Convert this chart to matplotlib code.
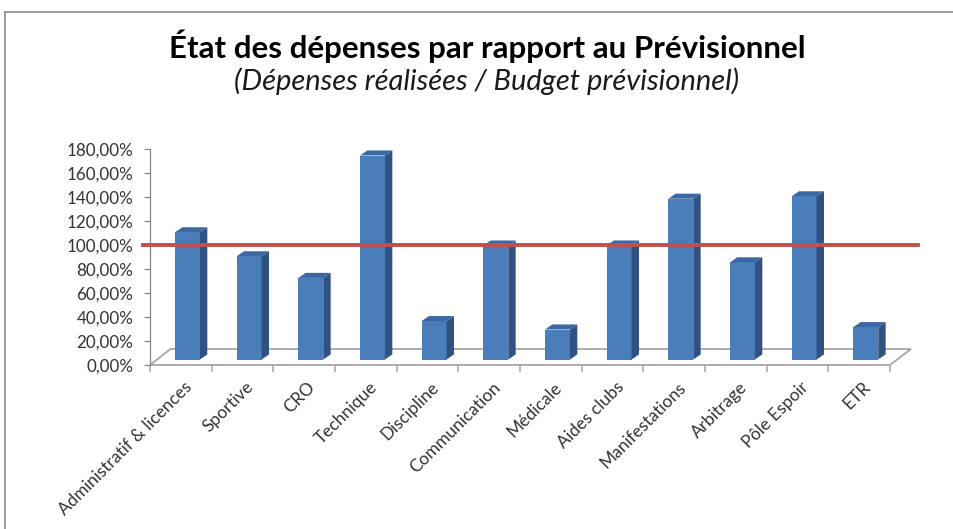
import matplotlib
matplotlib.use("Agg")
import matplotlib.pyplot as plt
from matplotlib.lines import Line2D
from matplotlib.patches import Polygon
from matplotlib.transforms import ScaledTranslation
import numpy as np

# ---- data (ratio dépenses / budget, in %) ----
CATEGORIES = ["Administratif & licences", "Sportive", "CRO", "Technique",
              "Discipline", "Communication", "Médicale", "Aides clubs",
              "Manifestations", "Arbitrage", "Pôle Espoir", "ETR"]
RATIOS = [106, 86, 68, 170, 32, 95, 25, 95, 134, 81, 136, 27]
Y_TICKS = [0, 20, 40, 60, 80, 100, 120, 140, 160, 180]
BUDGET_LINE = 100

TITLE = "État des dépenses par rapport au Prévisionnel"
SUBTITLE = "(Dépenses réalisées / Budget prévisionnel)"

FONT = ["Lato", "DejaVu Sans"]
FRONT, SIDE, TOP = "#4a7ebb", "#2f5282", "#3c67a3"
FLOOR = "#a6a6a6"
RED = "#c0504d"

W, H = 954, 529
fig = plt.figure(figsize=(W / 100, H / 100), dpi=100)
fig.patch.set_facecolor("white")
plt.rcParams["font.family"] = FONT


def size_for(text, target_px, **kw):
    """Font size that makes `text` target_px wide (measured unrotated)."""
    probe = fig.text(0, 0, text, fontsize=20, **kw)
    width = probe.get_window_extent(fig.canvas.get_renderer()).width
    probe.remove()
    return 20 * target_px / width


# plot area: x 150..890 px, y 0% at 365 px, 180% at 149 px
ax = fig.add_axes([150 / W, (H - 365) / H, 740 / W, 216 / H])
x = np.arange(len(CATEGORIES))
ax.set_xlim(-0.5, len(CATEGORIES) - 0.5)
ax.set_ylim(0, 180)
ax.patch.set_alpha(0)

for s in ("top", "right", "bottom"):
    ax.spines[s].set_visible(False)
ax.spines["left"].set_color("#868686")
ax.spines["left"].set_linewidth(0.9)

# floor of the 3D chart (front edge = x axis)
nx = len(CATEGORIES)
floor = Polygon([(-0.5, 0), (-0.17, 13.3), (nx - 0.5 + 0.34, 13.3), (nx - 0.5, 0)],
                closed=True, fill=False, edgecolor=FLOOR, lw=1.3,
                clip_on=False, zorder=1)
ax.add_patch(floor)

# bars stand in the middle of the floor depth
shift = ax.transData + ScaledTranslation(0.066, 0.055, fig.dpi_scale_trans)
w = 0.405
dx, dy = 0.12, 4.2
for xi, v in zip(x, RATIOS):
    l, r = xi - w / 2, xi + w / 2
    ax.add_patch(Polygon([(l, 0), (r, 0), (r, v), (l, v)], closed=True,
                         facecolor=FRONT, edgecolor="none",
                         transform=shift, clip_on=False, zorder=3))
    ax.add_patch(Polygon([(r, 0), (r + dx, dy), (r + dx, v + dy), (r, v)],
                         closed=True, facecolor=SIDE, edgecolor="none",
                         transform=shift, clip_on=False, zorder=3))
    ax.add_patch(Polygon([(l, v), (l + dx, v + dy), (r + dx, v + dy), (r, v)],
                         closed=True, facecolor=TOP, edgecolor="none",
                         transform=shift, clip_on=False, zorder=3))

# hand-drawn 100% line
ax.axhline(BUDGET_LINE, xmin=-0.01, xmax=1.038, color=RED, lw=2.8,
           clip_on=False, zorder=6)

# y axis
ytick_size = size_for("100,00%", 67)
ax.set_yticks(Y_TICKS)
ax.set_yticklabels([f"{t:.2f}%".replace(".", ",") for t in Y_TICKS],
                   fontsize=ytick_size, color="#333333")
ax.tick_params(axis="y", length=4, width=0.9, color="#868686", pad=8)

# x axis: ticks between categories, rotated labels
ax.set_xticks(np.arange(nx + 1) - 0.5)
ax.set_xticklabels([])
ax.tick_params(axis="x", length=5, width=1.1, color=FLOOR)
xlab_size = size_for(CATEGORIES[0], 182)
lab_tr = ax.get_xaxis_transform() + ScaledTranslation(0.03, -0.14, fig.dpi_scale_trans)
for xi, name in zip(x, CATEGORIES):
    ax.text(xi, 0, name, transform=lab_tr, rotation=45, rotation_mode="anchor",
            ha="right", va="top", fontsize=xlab_size, color="#333333")

# titles
fig.text(487 / W, 1 - 58 / H, TITLE, ha="center", va="baseline",
         fontsize=size_for(TITLE, 636, fontweight="bold"),
         fontweight="bold", color="black")
fig.text(487 / W, 1 - 90 / H, SUBTITLE, ha="center", va="baseline",
         fontsize=size_for(SUBTITLE, 505, fontstyle="italic"),
         fontstyle="italic", color="#1a1a1a")

# chart frame (cropped on the right and bottom in the reference)
fig.add_artist(Line2D([5 / W, 1], [1 - 12 / H, 1 - 12 / H], color="#8c8c8c", lw=1.2))
fig.add_artist(Line2D([5 / W, 5 / W], [0, 1 - 12 / H], color="#8c8c8c", lw=1.2))

fig.savefig("out.png", dpi=100)
